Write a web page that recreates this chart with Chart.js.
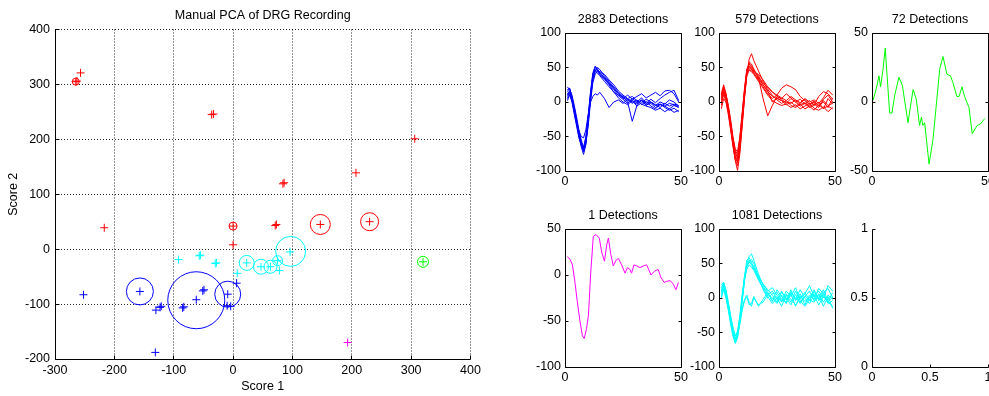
<!DOCTYPE html>
<html>
<head>
<meta charset="utf-8">
<script src="https://cdn.jsdelivr.net/npm/chart.js@4.4.0/dist/chart.umd.min.js"></script>
<style>
  body { margin: 0; width: 989px; height: 396px; overflow: hidden; background: #fff; position: relative; }
  canvas { position: absolute; }
</style>
</head>
<body>
<script>
// ---- PCA scores (Score 1 / Score 2) per cluster ----
const blueS1 = [-252, -157, -130, -123, -121, -85, -83, -62, -51, -49, -9, -10, -4, 6, -131];
const blueS2 = [-83, -77, -111, -106, -104, -107, -105, -92, -76, -74, -82, -103, -104, -62, -188];
const blueCentS1 = [-157, -62, -9];
const blueCentS2 = [-77, -93, -82];

const redS1 = [-265, -263, -257, -36, -33, 84, 86, 207, 306, -217, 0, 0, 71, 73, 147, 230];
const redS2 = [305, 306, 321, 245, 246, 119, 121, 139, 201, 39, 42, 8, 43, 45, 45, 50];
const redCentS1 = [-265, 0, 147, 230];
const redCentS2 = [305, 42, 45, 50];

const greenS1 = [320];
const greenS2 = [-23];

const magentaS1 = [193];
const magentaS2 = [-170];

const cyanS1 = [-92, -57, -55, -30, -28, 7, 23, 47, 63, 75, 78, 96];
const cyanS2 = [-19, -12, -11, -26, -25, -44, -25, -32, -32, -21, -39, -5];
const cyanCentS1 = [23, 47, 63, 75, 97];
const cyanCentS2 = [-25, -32, -32, -21, -4];

// ---- waveform snippets (sample index -> amplitude) ----
const sampleIdx = [1,2,3,4,5,6,7,8,9,10,11,12,13,14,15,17,19,21,23,25,27,29,31,33,35,37,39,41,43,45,47,49];

const blueWaves = [
  [15,20,8,-10,-28,-45,-60,-70,-55,-25,10,38,48,46,42,35,28,20,12,6,2,0,-3,2,-5,0,-4,-8,-2,-6,-3,-5],
  [8,14,2,-15,-32,-50,-65,-76,-62,-30,5,32,45,50,47,38,30,22,14,8,4,-2,3,-4,1,-6,-10,-3,-8,-12,-9,-14],
  [22,18,10,-5,-22,-40,-55,-66,-50,-20,15,42,52,48,43,36,26,18,9,4,-2,5,0,6,-2,4,-1,5,10,14,17,2],
  [2,10,0,-18,-35,-52,-62,-68,-58,-35,0,28,40,45,44,40,32,25,16,10,5,8,2,-3,-6,-8,-12,-9,-14,-10,-15,-12],
  [12,16,5,-12,-30,-48,-62,-72,-60,-28,8,35,44,42,38,30,22,15,6,0,-4,2,-6,-1,4,0,-5,0,-3,3,0,-6],
  [10,15,4,-12,-28,-42,-50,-52,-40,-18,0,8,12,10,14,5,-8,0,3,-2,4,2,-1,3,-2,0,-5,-3,-6,-2,-4,-7],
  [18,20,6,-8,-26,-44,-58,-67,-52,-22,12,40,50,47,40,33,25,14,10,8,0,-28,-5,2,-4,-2,-8,-4,-6,-10,-5,-8],
  [5,12,3,-14,-30,-46,-60,-70,-56,-26,6,34,46,44,40,34,28,20,12,5,10,4,8,12,6,10,14,9,16,17,12,0]
];

const redWaves = [
  [5,20,10,-8,-30,-55,-75,-80,-55,-20,15,45,55,50,45,38,25,15,8,5,2,0,-2,3,-4,-1,-6,-3,-8,2,-5,-2],
  [-5,15,5,-12,-35,-60,-85,-99,-75,-35,5,40,62,70,60,45,30,18,10,3,-2,2,-5,-8,-3,-10,-6,-12,-4,-9,-6,-10],
  [12,25,12,-5,-25,-50,-68,-72,-50,-15,20,48,52,48,42,32,22,12,5,10,20,25,22,18,8,2,-4,0,-6,4,10,0],
  [0,10,2,-15,-38,-62,-80,-88,-65,-28,10,42,58,55,48,35,5,-20,-5,8,4,-2,5,0,-6,-2,-8,-5,0,-10,5,-3],
  [8,18,8,-10,-32,-56,-72,-82,-60,-25,12,44,50,47,44,40,32,22,15,8,5,12,6,0,4,-3,2,-4,8,15,12,4],
  [-10,5,0,-18,-40,-64,-84,-92,-70,-32,8,38,46,44,40,30,20,10,2,-2,-5,-3,-8,-4,-10,-6,-2,-9,-12,-7,-14,-8],
  [10,22,12,-6,-28,-52,-70,-76,-52,-18,18,46,56,52,46,36,28,20,14,10,6,2,8,3,-1,5,0,3,-2,6,17,10],
  [3,14,4,-12,-34,-58,-78,-86,-62,-26,10,40,48,45,42,34,25,16,0,6,2,-4,0,-6,-2,4,-3,1,-5,0,-8,6]
];

const cyanWaves = [
  [15,22,10,-10,-30,-48,-60,-52,-30,0,30,50,60,64,55,35,18,5,10,-2,8,0,-10,5,-8,2,10,-4,6,-6,4,-2],
  [5,18,5,-15,-35,-52,-66,-58,-35,-5,25,45,55,50,45,28,15,8,-5,12,2,-8,6,-12,3,-5,0,12,-4,8,14,0],
  [19,23,12,-5,-25,-42,-55,-48,-25,5,32,48,52,48,42,30,20,12,4,-6,10,-3,8,-2,12,0,-8,4,-10,2,-6,-12],
  [0,12,0,-18,-38,-56,-64,-55,-32,-2,28,42,48,45,40,26,14,2,-8,0,-12,4,-6,10,-4,-12,-2,6,0,12,-4,8],
  [10,18,8,-12,-30,-46,-55,-50,-35,-15,-2,4,-6,-12,0,-10,-6,5,0,-8,4,-2,8,0,-6,3,-4,10,-2,5,-8,-4],
  [2,14,2,-14,-34,-50,-60,-52,-38,-18,-4,2,-10,-8,2,-12,-2,8,-4,2,-6,6,-2,-10,0,8,-3,-6,4,-12,2,-15],
  [12,20,6,-8,-28,-45,-58,-50,-28,2,30,55,58,52,44,32,20,10,15,4,-4,10,2,15,-2,6,18,2,10,0,18,10],
  [8,16,4,-12,-32,-50,-62,-54,-32,-2,26,46,52,56,50,30,12,0,6,8,-2,-6,12,-4,6,-10,4,-2,14,6,-6,2]
];

const greenIdx = [0.4,1.9,3,3.7,4.7,5.7,7.6,8.6,9.8,11.6,13.1,15.5,17.7,19.1,20.5,21.3,21.9,22.7,24.6,26.3,29.2,30.6,32.3,33.8,34.9,36.6,37.5,38.8,39.9,41.8,43.2,45.3,46.7,48.6];
const greenWave = [1,10,19,11,23,39,-8,-8,5,18,12,-15,9,2,-17,-11,-17,-15,-45,-27,24,33,20,19,14,4,4,11,4,-4,-23,-17,-16,-12];

const magentaIdx = [1,2.2,3.2,4.3,5.3,6.5,7.5,8.3,9.3,10.1,11.1,12.2,13.4,14.8,15.8,17,18,18.7,19.7,20.8,22,23,24.4,25.9,26.9,28,28.7,29.7,30.9,32.3,34,35.2,37.1,38.5,40.2,41.2,42.7,43.8,45.3,46.7,47.8,48.9];
const magentaWave = [20,17,11,-8,-29,-51,-66,-69,-58,-44,3,42,44,40,25,15,33,40,23,10,16,18,11,2,8,6,2,11,10,8,10,11,0,4,6,-2,-8,-7,-6,-10,-16,-8];

const detections = ['2883 Detections', '579 Detections', '72 Detections', '1 Detections', '1081 Detections'];

// ---- styling ----
const BLUE = '#0000ff', RED = '#ff0000', GREEN = '#00ff00', MAGENTA = '#ff00ff', CYAN = '#00ffff';
const FS = 12.5;
Chart.defaults.font.family = '"Liberation Sans", Arial, sans-serif';
Chart.defaults.font.size = FS;
Chart.defaults.color = '#000';
Chart.defaults.animation = false;

// axes drawn the matlab way: inward ticks, optional closed box
const innerAxes = {
  id: 'innerAxes',
  afterDatasetsDraw(chart, args, opts) {
    const { ctx, chartArea: a, scales: { x, y } } = chart;
    const al = v => Math.round(v - 0.5) + 0.5;
    const len = opts.tickLength || 3;
    const L = al(a.left), R = al(a.right), T = al(a.top), B = al(a.bottom);
    ctx.save();
    ctx.strokeStyle = '#000';
    ctx.lineWidth = 1;
    ctx.beginPath();
    ctx.moveTo(L, T); ctx.lineTo(L, B); ctx.lineTo(R, B);
    if (opts.box) { ctx.lineTo(R, T); ctx.lineTo(L, T); }
    x.ticks.forEach(t => {
      const px = al(x.getPixelForValue(t.value));
      ctx.moveTo(px, B); ctx.lineTo(px, B - len);
      if (opts.box) { ctx.moveTo(px, T); ctx.lineTo(px, T + len); }
    });
    y.ticks.forEach(t => {
      const py = al(y.getPixelForValue(t.value));
      ctx.moveTo(L, py); ctx.lineTo(L + len, py);
      if (opts.box) { ctx.moveTo(R, py); ctx.lineTo(R - len, py); }
    });
    ctx.stroke();
    ctx.restore();
  }
};
Chart.register(innerAxes);

function addCanvas(left, top, w, h) {
  const c = document.createElement('canvas');
  c.width = w; c.height = h;
  c.style.left = left + 'px';
  c.style.top = top + 'px';
  document.body.appendChild(c);
  return c;
}

function pts(xs, ys) { return xs.map((v, i) => ({ x: v, y: ys[i] })); }
const plainNum = v => String(v);

function plusSet(xs, ys, color) {
  return { data: pts(xs, ys), pointStyle: 'cross', pointRadius: 4, borderColor: color, borderWidth: 1 };
}
function ringSet(xs, ys, color, radii) {
  return { data: pts(xs, ys), pointStyle: 'circle', pointRadius: radii, backgroundColor: 'rgba(0,0,0,0)', borderColor: color, borderWidth: 1 };
}

// ---- scatter of the PCA scores ----
new Chart(addCanvas(0, 0, 500, 396), {
  type: 'scatter',
  data: {
    datasets: [
      plusSet(blueS1, blueS2, BLUE),
      ringSet(blueCentS1, blueCentS2, BLUE, [13.5, 28.5, 13]),
      plusSet(redS1, redS2, RED),
      ringSet(redCentS1, redCentS2, RED, [3.5, 4, 10, 9]),
      plusSet(greenS1, greenS2, GREEN),
      ringSet(greenS1, greenS2, GREEN, [5.5]),
      plusSet(magentaS1, magentaS2, MAGENTA),
      plusSet(cyanS1, cyanS2, CYAN),
      ringSet(cyanCentS1, cyanCentS2, CYAN, [7.5, 7.5, 6.5, 5, 15])
    ]
  },
  options: {
    responsive: false,
    layout: { padding: { left: 0, right: 21, top: 0, bottom: 0 } },
    plugins: {
      legend: { display: false },
      tooltip: { enabled: false },
      title: { display: true, text: 'Manual PCA of DRG Recording', fullSize: false,
               font: { size: FS, weight: 'normal' }, padding: { top: 3, bottom: 6 } },
      innerAxes: { tickLength: 4, box: false }
    },
    scales: {
      x: {
        type: 'linear', min: -300, max: 400,
        ticks: { stepSize: 100, padding: 4, maxRotation: 0, autoSkip: false, callback: plainNum },
        grid: { color: 'rgba(0,0,0,0.85)', drawTicks: false },
        border: { display: false, dash: [1, 2] },
        title: { display: true, text: 'Score 1', font: { size: FS }, padding: { top: 0, bottom: 1.5 } },
        afterFit: s => { s.height = 37; }
      },
      y: {
        min: -200, max: 400,
        ticks: { stepSize: 100, padding: 5, callback: plainNum },
        grid: { color: 'rgba(0,0,0,0.85)', drawTicks: false },
        border: { display: false, dash: [1, 2] },
        title: { display: true, text: 'Score 2', font: { size: FS }, padding: { top: 6, bottom: 0 } },
        afterFit: s => { s.width = 55; }
      }
    }
  }
});

// ---- waveform panels ----
function waves(xs, list, color) {
  return list.map(ys => ({
    data: pts(xs, ys), borderColor: color, borderWidth: 1, pointRadius: 0, tension: 0, fill: false
  }));
}

function panel(left, top, datasets, cfg) {
  return new Chart(addCanvas(left - 45, top - 24, 176, 184), {
    type: 'line',
    data: { datasets },
    options: {
      responsive: false,
      layout: { padding: { left: 0, right: 15, top: cfg.title ? 0 : 24, bottom: 0 } },
      plugins: {
        legend: { display: false },
        tooltip: { enabled: false },
        title: { display: !!cfg.title, text: cfg.title || '', fullSize: false,
                 font: { size: FS, weight: 'normal' }, padding: { top: 3, bottom: 6 } },
        innerAxes: { tickLength: 3, box: cfg.box }
      },
      scales: {
        x: {
          type: 'linear', min: 0, max: cfg.xMax,
          ticks: { stepSize: cfg.xStep, padding: 3, maxRotation: 0, autoSkip: false, callback: plainNum },
          grid: { display: false, drawTicks: false },
          border: { display: false },
          afterFit: s => { s.height = 22; }
        },
        y: {
          min: cfg.yMin, max: cfg.yMax,
          ticks: { stepSize: cfg.yStep, padding: 4, autoSkip: false, callback: plainNum },
          grid: { display: false, drawTicks: false },
          border: { display: false },
          afterFit: s => { s.width = 45; }
        }
      }
    }
  });
}

const colX = [565, 719, 872];
const rowY = [33, 229];

panel(colX[0], rowY[0], waves(sampleIdx, blueWaves, BLUE),
  { title: detections[0], xMax: 50, xStep: 50, yMin: -100, yMax: 100, yStep: 50, box: true });
panel(colX[1], rowY[0], waves(sampleIdx, redWaves, RED),
  { title: detections[1], xMax: 50, xStep: 50, yMin: -100, yMax: 100, yStep: 50, box: true });
panel(colX[2], rowY[0], waves(greenIdx, [greenWave], GREEN),
  { title: detections[2], xMax: 50, xStep: 50, yMin: -50, yMax: 50, yStep: 50, box: true });
panel(colX[0], rowY[1], waves(magentaIdx, [magentaWave], MAGENTA),
  { title: detections[3], xMax: 50, xStep: 50, yMin: -100, yMax: 50, yStep: 50, box: true });
panel(colX[1], rowY[1], waves(sampleIdx, cyanWaves, CYAN),
  { title: detections[4], xMax: 50, xStep: 50, yMin: -100, yMax: 100, yStep: 50, box: true });
// empty axes in the last slot
panel(colX[2], rowY[1], [],
  { title: null, xMax: 1, xStep: 0.5, yMin: 0, yMax: 1, yStep: 0.5, box: false });
</script>
</body>
</html>
